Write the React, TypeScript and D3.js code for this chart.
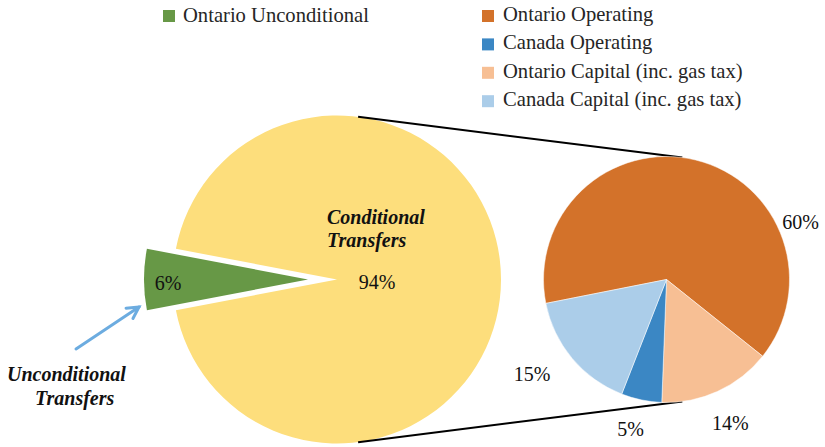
import React from "react";
import * as d3 from "d3";

// ---- data ----
const bigCategories = ["Ontario Unconditional", "Conditional Transfers"];
const bigValues = [6, 94];
const bigColors = ["#679846", "#FDDE7C"];

const smallCategories = [
  "Ontario Operating",
  "Ontario Capital (inc. gas tax)",
  "Canada Operating",
  "Canada Capital (inc. gas tax)",
];
const smallValues = [60, 14, 5, 15];
const smallColors = ["#D3722A", "#F7BF94", "#3B87C4", "#ABCDE9"];
const smallLabels = ["60%", "14%", "5%", "15%"];

const legendOrder = [
  "Ontario Operating",
  "Canada Operating",
  "Ontario Capital (inc. gas tax)",
  "Canada Capital (inc. gas tax)",
];

// ---- layout ----
const W = 825;
const H = 447;
const FONT = "'Liberation Serif', 'Times New Roman', serif";
const deg = Math.PI / 180;

export default function App() {
  // big pie
  const bigC = { x: 337, y: 279.5 };
  const bigR = 164;
  const explode = 29;
  const bigSum = d3.sum(bigValues);
  const bigStart = -Math.PI / 2 - (bigValues[0] / bigSum) * Math.PI;
  const bigPie = d3
    .pie<number>()
    .sort(null)
    .startAngle(bigStart)
    .endAngle(bigStart + 2 * Math.PI)(bigValues);
  const bigArc = d3.arc<d3.PieArcDatum<number>>().innerRadius(0).outerRadius(bigR);

  // small pie
  const smC = { x: 666.5, y: 279.5 };
  const smR = 123;
  const smStart = -101.2 * deg;
  const smPie = d3
    .pie<number>()
    .sort(null)
    .startAngle(smStart)
    .endAngle(smStart + 2 * Math.PI)(smallValues);
  const smArc = d3.arc<d3.PieArcDatum<number>>().innerRadius(0).outerRadius(smR);
  // label placement: [angle deg (clockwise from top), distance]
  const smLabelPlace: [number, number][] = [
    [66.7, 146],
    [156, 157],
    [193.5, 154],
    [235, 164],
  ];

  const conA = 7.4 * deg;
  const pt = (c: { x: number; y: number }, r: number, a: number) => ({
    x: c.x + r * Math.sin(a),
    y: c.y - r * Math.cos(a),
  });
  const bTop = pt(bigC, bigR, conA);
  const bBot = pt(bigC, bigR, Math.PI - conA);
  const sTop = pt(smC, smR, conA);
  const sBot = pt(smC, smR, Math.PI - conA);

  // arrow
  const a0 = { x: 76, y: 349 };
  const a1 = { x: 139, y: 307 };
  const ang = Math.atan2(a1.y - a0.y, a1.x - a0.x);
  const head = 13;
  const h1 = {
    x: a1.x - head * Math.cos(ang - 0.5),
    y: a1.y - head * Math.sin(ang - 0.5),
  };
  const h2 = {
    x: a1.x - head * Math.cos(ang + 0.5),
    y: a1.y - head * Math.sin(ang + 0.5),
  };

  const txt = "#111";

  return (
    <svg
      width={W}
      height={H}
      style={{ position: "absolute", left: 0, top: 0, background: "#fff" }}
      fontFamily={FONT}
    >
      {/* big pie */}
      {bigPie.map((d, i) => {
        const mid = (d.startAngle + d.endAngle) / 2;
        const off = i === 0 ? explode : 0;
        const tx = off * Math.sin(mid);
        const ty = -off * Math.cos(mid);
        return (
          <path
            key={bigCategories[i]}
            d={bigArc(d) || ""}
            fill={bigColors[i]}
            transform={`translate(${bigC.x + tx},${bigC.y + ty})`}
          />
        );
      })}

      {/* connector lines */}
      <line x1={bTop.x} y1={bTop.y} x2={sTop.x} y2={sTop.y} stroke="#000" strokeWidth={2} />
      <line x1={bBot.x} y1={bBot.y} x2={sBot.x} y2={sBot.y} stroke="#000" strokeWidth={2} />

      {/* small pie */}
      <g transform={`translate(${smC.x},${smC.y})`}>
        {smPie.map((d, i) => (
          <path
            key={smallCategories[i]}
            d={smArc(d) || ""}
            fill={smallColors[i]}
            stroke="#fff"
            strokeWidth={0.5}
          />
        ))}
      </g>

      {/* small pie labels */}
      {smallLabels.map((l, i) => {
        const [a, r] = smLabelPlace[i];
        const p = pt(smC, r, a * deg);
        return (
          <text
            key={l}
            x={p.x}
            y={p.y + 7}
            textAnchor="middle"
            fontSize={20}
            fill={txt}
          >
            {l}
          </text>
        );
      })}

      {/* big pie labels */}
      <text x={bigC.x - explode - 140} y={bigC.y + 10} textAnchor="middle" fontSize={20} fill={txt}>
        {bigValues[0]}%
      </text>
      <text x={bigC.x + 40} y={bigC.y + 9} textAnchor="middle" fontSize={20} fill={txt}>
        {bigValues[1]}%
      </text>
      <text x={bigC.x - 10} y={bigC.y - 56} fontSize={20} fontWeight="bold" fontStyle="italic" fill={txt}>
        Conditional
      </text>
      <text x={bigC.x - 10} y={bigC.y - 33} fontSize={20} fontWeight="bold" fontStyle="italic" fill={txt}>
        Transfers
      </text>

      {/* annotation */}
      <text x={7} y={381} fontSize={20} fontWeight="bold" fontStyle="italic" fill={txt}>
        Unconditional
      </text>
      <text x={35} y={405} fontSize={20} fontWeight="bold" fontStyle="italic" fill={txt}>
        Transfers
      </text>
      <g stroke="#6CACE0" strokeWidth={3} fill="none" strokeLinecap="round">
        <line x1={a0.x} y1={a0.y} x2={a1.x} y2={a1.y} />
        <polyline points={`${h1.x},${h1.y} ${a1.x},${a1.y} ${h2.x},${h2.y}`} strokeLinejoin="miter" />
      </g>

      {/* legends */}
      <rect x={163} y={10} width={12} height={12} fill={bigColors[0]} />
      <text x={183} y={21.5} fontSize={20.6} fill="#262626">
        {bigCategories[0]}
      </text>
      {legendOrder.map((name, i) => {
        const idx = smallCategories.indexOf(name);
        const y = 10 + i * 28.4;
        return (
          <g key={name}>
            <rect x={482} y={y} width={12} height={12} fill={smallColors[idx]} />
            <text x={503} y={y + 11} fontSize={20.6} fill="#262626">
              {name}
            </text>
          </g>
        );
      })}
    </svg>
  );
}
